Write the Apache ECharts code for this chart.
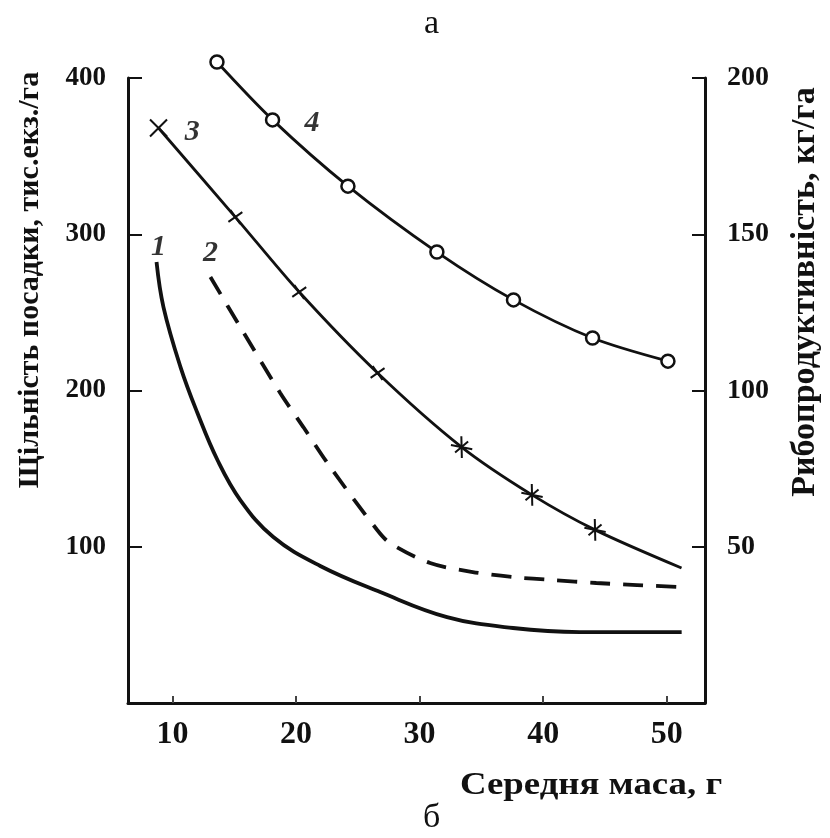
<!DOCTYPE html>
<html lang="uk">
<head>
<meta charset="UTF-8">
<title>Середня маса</title>
<style>html,body{margin:0;padding:0;background:#fff;}</style>
</head>
<body>
<div id="main" style="width:830px;height:838px;"></div>
<script src="https://cdn.jsdelivr.net/npm/echarts@6/dist/echarts.min.js"></script>
<script>
    var xTicks = [10, 20, 30, 40, 50];
    var leftTicks = [100, 200, 300, 400];
    var rightTicks = [50, 100, 150, 200];

    // крива 1 (ліва вісь)
    var c1x = [8.71, 9.27, 10.65, 12.02, 13.64, 15.49, 18.16, 21.96, 26.81, 32.22, 37.56, 42.97, 51.21];
    var c1y = [282.2, 253.4, 215.0, 185.6, 155.5, 129.9, 106.2, 87.7, 71.0, 55.0, 48.0, 45.4, 45.4];

    // крива 2, пунктир (ліва вісь)
    var c2x = [13.07, 15.49, 18.72, 20.59, 22.77, 26.57, 27.6, 30.85, 34.3, 37.56, 40.8, 44.3, 47.6, 51.05];
    var c2y = [272.6, 240.6, 198.4, 176.6, 151.0, 110.7, 102.4, 89.6, 83.8, 80.6, 78.7, 76.8, 75.5, 74.2];

    // крива 3 (права вісь), маркери: x - хрестик, t - риска, s - зірочка, n - без маркера
    var c3x = [8.87, 15.09, 20.26, 26.6, 33.4, 39.1, 44.2, 51.2];
    var c3y = [184.0, 155.5, 131.5, 105.6, 81.9, 66.6, 55.4, 43.2];
    var c3mark = ['x', 't', 't', 't', 's', 's', 's', 'n'];

    // крива 4 (права вісь)
    var c4x = [13.6, 18.1, 24.2, 31.4, 37.6, 44.0, 50.1];
    var c4y = [205.1, 186.6, 165.4, 144.3, 129.0, 116.8, 109.4];

    // номери кривих (в координатах лівої осі)
    var curveNames = ['1', '2', '3', '4'];
    var nameX = [8.87, 13.07, 11.6, 21.3];
    var nameY = [291.8, 288.0, 365.4, 371.2];

    var ink = '#111';
    var serif = '"Liberation Serif", "DejaVu Serif", serif';

    function pairs(xs, ys) {
        var out = [];
        for (var i = 0; i < xs.length; i++) out.push([xs[i], ys[i]]);
        return out;
    }

    var symbols = {
        x: {symbol: 'path://M0,0L10,10M10,0L0,10', symbolSize: 17, symbolRotate: 0},
        t: {symbol: 'path://M0,5L10,5M5,2L5,8', symbolSize: 17, symbolRotate: 35},
        s: {symbol: 'path://M1,1L9,9M9,1L1,9M0,5L10,5', symbolSize: 17, symbolRotate: 40},
        n: {symbol: 'none', symbolSize: 0, symbolRotate: 0}
    };

    var c3data = [];
    for (var i = 0; i < c3x.length; i++) {
        var s = symbols[c3mark[i]];
        c3data.push({
            value: [c3x[i], c3y[i]],
            symbol: s.symbol,
            symbolSize: s.symbolSize,
            symbolRotate: s.symbolRotate
        });
    }

    var labelData = [];
    for (var j = 0; j < curveNames.length; j++) {
        labelData.push({name: curveNames[j], value: [nameX[j], nameY[j]]});
    }

    var myChart = echarts.init(document.getElementById('main'));

    var option = {
        animation: false,
        backgroundColor: '#fff',
        title: [
            {text: 'а', left: 419, top: 2, textStyle: {fontFamily: serif, fontSize: 34, fontWeight: 'normal', color: ink}},
            {text: 'б', left: 418, top: 796, textStyle: {fontFamily: serif, fontSize: 34, fontWeight: 'normal', color: ink}}
        ],
        graphic: [
            {
                type: 'text', x: 30, y: 280, rotation: Math.PI / 2,
                style: {
                    text: 'Щільність посадки, тис.екз./га',
                    font: 'bold 30px ' + serif, fill: ink,
                    textAlign: 'center', textVerticalAlign: 'middle'
                }
            },
            {
                type: 'text', x: 805, y: 292, rotation: Math.PI / 2,
                style: {
                    text: 'Рибопродуктивність, кг/га',
                    font: 'bold 34px ' + serif, fill: ink,
                    textAlign: 'center', textVerticalAlign: 'middle'
                }
            },
            {
                type: 'text', x: 460, y: 786, scaleX: 1.15,
                style: {
                    text: 'Середня маса, г',
                    font: 'bold 32px ' + serif, fill: ink,
                    textAlign: 'left', textVerticalAlign: 'middle'
                }
            }
        ],
        grid: {left: 128, right: 125, top: 78, bottom: 135, containLabel: false},
        xAxis: {
            type: 'value',
            min: 6.4,
            max: 53.1,
            splitLine: {show: false},
            axisLine: {lineStyle: {color: ink, width: 3}},
            axisTick: {inside: true, length: 7, lineStyle: {color: '#444', width: 2}, customValues: xTicks},
            axisLabel: {
                customValues: xTicks, margin: 16,
                fontFamily: serif, fontSize: 32, fontWeight: 'bold', color: ink
            }
        },
        yAxis: [
            {
                type: 'value',
                min: 0,
                max: 400,
                position: 'left',
                splitLine: {show: false},
                axisLine: {show: true, lineStyle: {color: ink, width: 3}},
                axisTick: {show: true, inside: true, length: 14, lineStyle: {color: ink, width: 2}, customValues: leftTicks},
                axisLabel: {
                    customValues: leftTicks, margin: 22,
                    fontFamily: serif, fontSize: 27, fontWeight: 'bold', color: ink
                }
            },
            {
                type: 'value',
                min: 0,
                max: 200,
                position: 'right',
                splitLine: {show: false},
                axisLine: {show: true, lineStyle: {color: ink, width: 3}},
                axisTick: {show: true, inside: true, length: 13, lineStyle: {color: ink, width: 2}, customValues: rightTicks},
                axisLabel: {
                    customValues: rightTicks, margin: 22,
                    fontFamily: serif, fontSize: 28, fontWeight: 'bold', color: ink
                }
            }
        ],
        series: [
            {
                name: '1',
                type: 'line',
                yAxisIndex: 0,
                data: pairs(c1x, c1y),
                smooth: 0.4,
                showSymbol: false,
                clip: false,
                lineStyle: {color: ink, width: 3.8}
            },
            {
                name: '2',
                type: 'line',
                yAxisIndex: 0,
                data: pairs(c2x, c2y),
                smooth: 0.3,
                showSymbol: false,
                clip: false,
                lineStyle: {color: ink, width: 3.8, type: [20, 13]}
            },
            {
                name: '3',
                type: 'line',
                yAxisIndex: 1,
                data: c3data,
                smooth: 0.3,
                clip: false,
                itemStyle: {color: ink, borderColor: ink, borderWidth: 2},
                lineStyle: {color: ink, width: 2.8}
            },
            {
                name: '4',
                type: 'line',
                yAxisIndex: 1,
                data: pairs(c4x, c4y),
                smooth: 0.3,
                clip: false,
                symbol: 'circle',
                symbolSize: 13,
                itemStyle: {color: '#fff', borderColor: ink, borderWidth: 2.5},
                lineStyle: {color: ink, width: 2.8},
                z: 3
            },
            {
                name: 'numbers',
                type: 'scatter',
                yAxisIndex: 0,
                data: labelData,
                symbolSize: 0,
                itemStyle: {color: '#000'},
                label: {
                    show: true, position: 'inside', formatter: '{b}',
                    textBorderWidth: 0,
                    fontFamily: serif, fontSize: 30, fontWeight: 'bold', fontStyle: 'italic', color: '#000'
                }
            }
        ]
    };

    myChart.setOption(option);
</script>
</body>
</html>
